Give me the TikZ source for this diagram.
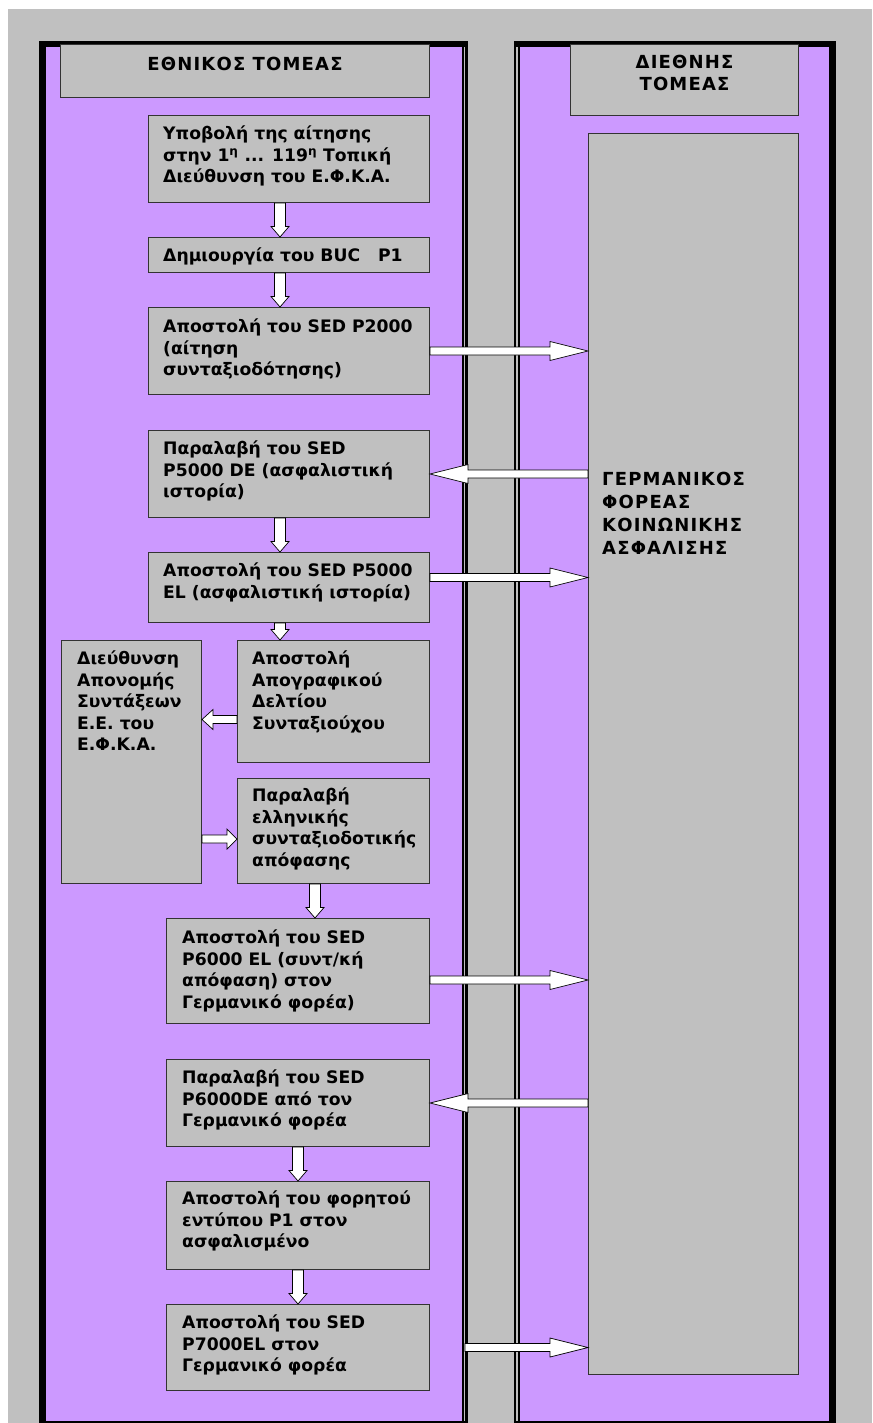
\documentclass[tikz,border=0pt]{standalone}
\usepackage{fontspec}
\setmainfont{DejaVu Sans}
\usetikzlibrary{calc}
\definecolor{lilac}{HTML}{CC99FF}
\definecolor{bggray}{HTML}{C0C0C0}
\definecolor{edgegray}{HTML}{333333}
\newcommand\downarr[2]{%
 \path[arrowshape] let \p1=(#1), \p2=(#2) in
 ({\x1-5.5pt},\y1) -- ({\x1-5.5pt},{\y2+10.5pt}) -- ({\x1-9pt},{\y2+10.5pt}) -- (\x1,\y2)
 -- ({\x1+9pt},{\y2+10.5pt}) -- ({\x1+5.5pt},{\y2+10.5pt}) -- ({\x1+5.5pt},\y1) -- cycle;}
\newcommand\harr[5]{%
 \path[arrowshape] let \p1=(#1), \p2=(#2), \n1={sign(\x2-\x1)} in
 (\x1,{\y1+#5}) -- ({\x2-(\n1)*#3},{\y1+#5}) -- ({\x2-(\n1)*#3},{\y1+#4}) -- (\x2,\y1)
 -- ({\x2-(\n1)*#3},{\y1-#4}) -- ({\x2-(\n1)*#3},{\y1-#5}) -- (\x1,{\y1-#5}) -- cycle;}
\begin{document}
\begin{tikzpicture}[x=1pt,y=-1pt,
  box/.style={draw=edgegray, fill=bggray, line width=1pt, inner sep=0pt, anchor=north west},
  txt/.style={inner sep=0pt, anchor=north west, align=left,
    font=\bfseries\fontsize{17.2}{21.5}\selectfont, execute at begin node=\strut},
  captxt/.style={inner sep=0pt, anchor=north, align=center,
    font=\bfseries\fontsize{18}{22}\selectfont\addfontfeature{LetterSpace=6.5}, execute at begin node=\strut},
  arrowshape/.style={fill=white, draw=black, line width=0.7pt, line join=miter}]
\useasboundingbox (0,0) rectangle (872,1423);
\fill[white] (0,0) rectangle (872,1423);
\fill[bggray] (8,9) rectangle (872,1423);
% left lane
\fill[black] (39,41) rectangle (468,1423);
\fill[lilac] (46,47) rectangle (462,1421);
\fill[bggray] (464,47) rectangle (465.2,1421);
% right lane
\fill[black] (514,41) rectangle (836,1423);
\fill[lilac] (520,47) rectangle (829,1421);
\fill[bggray] (516,47) rectangle (518,1421);

% headers
\node[box, minimum width=369pt, minimum height=53pt] (hdrL) at (60,44) {};
\node[captxt] (hdrLt) at ($(hdrL.north)+(0,11)$) {ΕΘΝΙΚΟΣ ΤΟΜΕΑΣ};
\node[box, minimum width=228pt, minimum height=71pt] (hdrR) at (570,44) {};
\node[captxt] (hdrRt) at ($(hdrR.north)+(0,11)$) {ΔΙΕΘΝΗΣ\\ΤΟΜΕΑΣ};
\node[box, minimum width=210pt, minimum height=1241pt] (ger) at (588,133) {};
\node[captxt, anchor=north west, align=left, font=\bfseries\fontsize{18}{23}\selectfont\addfontfeature{LetterSpace=6.5}] (gert) at ($(ger.north west)+(14,339)$) {ΓΕΡΜΑΝΙΚΟΣ\\ΦΟΡΕΑΣ\\ΚΟΙΝΩΝΙΚΗΣ\\ΑΣΦΑΛΙΣΗΣ};

% left boxes
\node[box, minimum width=281pt, minimum height=87pt] (b1) at (148,115) {};
\node[txt] (b1t) at ($(b1.north west)+(15,11)$) {Υποβολή της αίτησης\\στην 1\textsuperscript{η} ... 119\textsuperscript{η} Τοπική\\Διεύθυνση του Ε.Φ.Κ.Α.};
\node[box, minimum width=281pt, minimum height=35pt] (b2) at (148,237) {};
\node[txt] (b2t) at ($(b2.north west)+(15,9)$) {Δημιουργία του BUC\ \ \ P1};
\node[box, minimum width=281pt, minimum height=87pt] (b3) at (148,307) {};
\node[txt] (b3t) at ($(b3.north west)+(15,12)$) {Αποστολή του SED P2000\\(αίτηση\\συνταξιοδότησης)};
\node[box, minimum width=281pt, minimum height=87pt] (b4) at (148,430) {};
\node[txt] (b4t) at ($(b4.north west)+(15,11)$) {Παραλαβή του SED\\P5000 DE (ασφαλιστική\\ιστορία)};
\node[box, minimum width=281pt, minimum height=70pt] (b5) at (148,552) {};
\node[txt] (b5t) at ($(b5.north west)+(15,11)$) {Αποστολή του SED P5000\\EL (ασφαλιστική ιστορία)};
\node[box, minimum width=192pt, minimum height=122pt] (b6) at (237,640) {};
\node[txt] (b6t) at ($(b6.north west)+(15,11)$) {Αποστολή\\Απογραφικού\\Δελτίου\\Συνταξιούχου};
\node[box, minimum width=140pt, minimum height=243pt] (b7) at (61,640) {};
\node[txt] (b7t) at ($(b7.north west)+(16,11)$) {Διεύθυνση\\Απονομής\\Συντάξεων\\Ε.Ε. του\\Ε.Φ.Κ.Α.};
\node[box, minimum width=192pt, minimum height=105pt] (b8) at (237,778) {};
\node[txt] (b8t) at ($(b8.north west)+(15,10)$) {Παραλαβή\\ελληνικής\\συνταξιοδοτικής\\απόφασης};
\node[box, minimum width=263pt, minimum height=105pt] (b9) at (166,918) {};
\node[txt] (b9t) at ($(b9.north west)+(16,12)$) {Αποστολή του SED\\P6000 EL (συντ/κή\\απόφαση) στον\\Γερμανικό φορέα)};
\node[box, minimum width=263pt, minimum height=87pt] (b10) at (166,1059) {};
\node[txt] (b10t) at ($(b10.north west)+(16,11)$) {Παραλαβή του SED\\P6000DE από τον\\Γερμανικό φορέα};
\node[box, minimum width=263pt, minimum height=88pt] (b11) at (166,1181) {};
\node[txt] (b11t) at ($(b11.north west)+(16,10)$) {Αποστολή του φορητού\\εντύπου P1 στον\\ασφαλισμένο};
\node[box, minimum width=263pt, minimum height=86pt] (b12) at (166,1304) {};
\node[txt] (b12t) at ($(b12.north west)+(16,11)$) {Αποστολή του SED\\P7000EL στον\\Γερμανικό φορέα};

% helper coordinates
\coordinate (x280) at (280,0);
\coordinate (x315) at (315,0);
\coordinate (x298) at (298,0);
\coordinate (x465) at (465,0);
\coordinate (a5) at ($(b5.east)+(0,-10)$);
\coordinate (a6) at ($(b6.west)+(0,18)$);
\coordinate (a8) at ($(b8.west)+(0,8)$);
\coordinate (a9) at ($(b9.east)+(0,9)$);
\coordinate (a12) at (x465 |- b12.east);

% vertical arrows
\downarr{x280 |- b1.south}{x280 |- b2.north}
\downarr{x280 |- b2.south}{x280 |- b3.north}
\downarr{x280 |- b4.south}{x280 |- b5.north}
\downarr{x280 |- b5.south}{x280 |- b6.north}
\downarr{x315 |- b8.south}{x315 |- b9.north}
\downarr{x298 |- b10.south}{x298 |- b11.north}
\downarr{x298 |- b11.south}{x298 |- b12.north}

% horizontal arrows
\harr{b3.east}{b3.east -| ger.west}{38pt}{9.5pt}{4pt}
\harr{b4.east -| ger.west}{b4.east}{38pt}{9.5pt}{4pt}
\harr{a5}{a5 -| ger.west}{38pt}{9.5pt}{4pt}
\harr{a6}{a6 -| b7.east}{11pt}{10pt}{4pt}
\harr{a8 -| b7.east}{a8}{10pt}{10pt}{4pt}
\harr{a9}{a9 -| ger.west}{38pt}{9.5pt}{4pt}
\harr{b10.east -| ger.west}{b10.east}{38pt}{9.5pt}{4pt}
\harr{a12}{a12 -| ger.west}{38pt}{9.5pt}{4pt}
\end{tikzpicture}
\end{document}
